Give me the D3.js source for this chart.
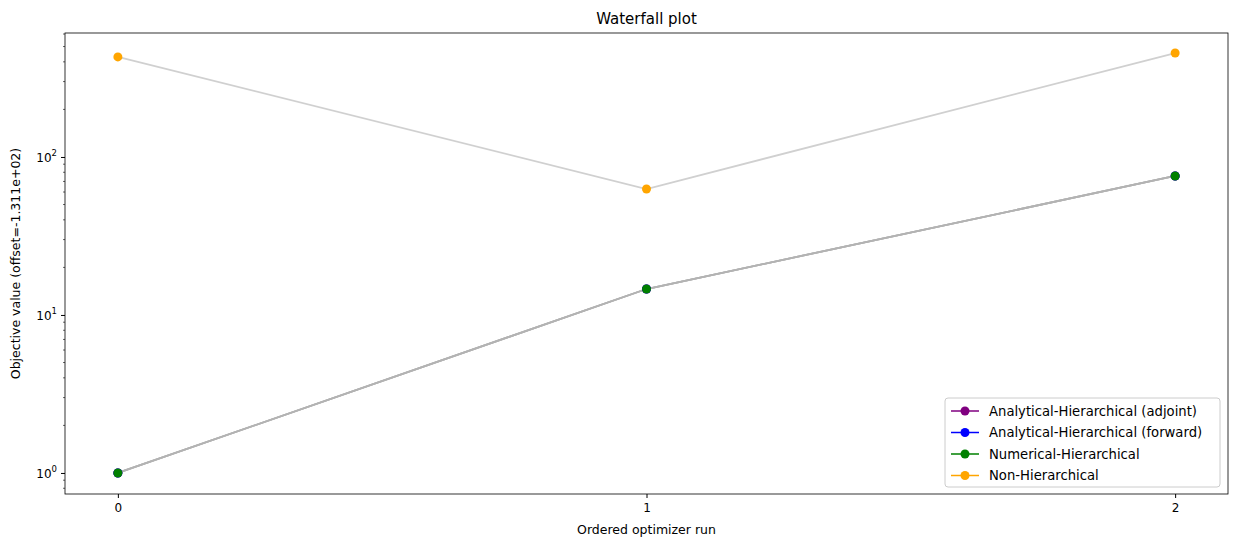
<!DOCTYPE html>
<html><head><meta charset="utf-8"><script src="https://d3js.org/d3.v7.min.js"></script>
<style>body{margin:0;background:#fff}text{font-family:"DejaVu Sans",sans-serif}</style></head>
<body><svg id="c" width="1237" height="547"></svg>
<script>
const runs=[0,1,2];
const seriesNames=["Analytical-Hierarchical (adjoint)","Analytical-Hierarchical (forward)","Numerical-Hierarchical","Non-Hierarchical"];
const seriesColors=["purple","blue","green","orange"];
const adjointVals=[1,14.6,75.8];
const forwardVals=[1,14.6,75.8];
const numericalVals=[1,14.6,75.8];
const nonHierVals=[430,62.7,455];
const yTicks=[1,10,100];
const allVals=[adjointVals,forwardVals,numericalVals,nonHierVals];

const svg=d3.select("#c");
const L=65,R=1228,T=33,B=494;
const x=d3.scaleLinear().domain([-0.1,2.1]).range([L,R]);
const y=d3.scaleLog().domain([0.736,609]).range([B,T]);
svg.append("rect").attr("x",L).attr("y",T).attr("width",R-L).attr("height",B-T).attr("fill","none").attr("stroke","#000").attr("stroke-width",0.8);
const line=d3.line().x((d,i)=>x(runs[i])).y(d=>y(d));
allVals.forEach((v,k)=>{
  svg.append("path").attr("d",line(v)).attr("fill","none").attr("stroke",k==3?"#d0d0d0":"#b3b3b3").attr("stroke-width",1.8);
});
allVals.forEach((v,k)=>{
  v.forEach((d,i)=>svg.append("circle").attr("cx",x(runs[i])).attr("cy",y(d)).attr("r",4.5).attr("fill",seriesColors[k]));
});
const xa=svg.append("g").attr("transform",`translate(0,${B})`).call(d3.axisBottom(x).tickValues(runs).tickFormat(d3.format("d")).tickSize(4));
xa.select(".domain").remove();
xa.selectAll("text").attr("font-size",12).attr("fill","#000").attr("dy","0.9em");
const ya=svg.append("g").attr("transform",`translate(${L},0)`).call(d3.axisLeft(y).tickValues(yTicks).tickFormat(()=>"").tickSize(4));
ya.select(".domain").remove();
const minor=[];for(let e=-1;e<3;e++)for(let m=2;m<10;m++){const v=m*Math.pow(10,e);if(v>0.736&&v<609)minor.push(v);}
svg.append("g").selectAll("line").data(minor).join("line").attr("x1",L-2).attr("x2",L).attr("y1",d=>y(d)).attr("y2",d=>y(d)).attr("stroke","#000").attr("stroke-width",0.6);
yTicks.forEach((t,i)=>{
  const g=svg.append("text").attr("x",L-8).attr("y",y(t)+5).attr("text-anchor","end").attr("font-size",12);
  g.append("tspan").text("10");
  g.append("tspan").attr("dy",-6).attr("font-size",8.5).text(i);
});
svg.append("text").attr("x",(L+R)/2).attr("y",24).attr("text-anchor","middle").attr("font-size",15).text("Waterfall plot");
svg.append("text").attr("x",(L+R)/2).attr("y",534).attr("text-anchor","middle").attr("font-size",12.5).text("Ordered optimizer run");
svg.append("text").attr("transform",`translate(20,${(T+B)/2}) rotate(-90)`).attr("text-anchor","middle").attr("font-size",12.5).text("Objective value (offset=-1.311e+02)");
const lg=svg.append("g").attr("transform","translate(945,398)");
lg.append("rect").attr("width",275).attr("height",89).attr("rx",3).attr("fill","#fff").attr("fill-opacity",0.8).attr("stroke","#ccc");
seriesNames.forEach((n,i)=>{
  const yy=13+i*21.5;
  lg.append("line").attr("x1",6).attr("x2",34).attr("y1",yy).attr("y2",yy).attr("stroke",seriesColors[i]).attr("stroke-width",1.5);
  lg.append("circle").attr("cx",20).attr("cy",yy).attr("r",4.5).attr("fill",seriesColors[i]);
  lg.append("text").attr("x",44).attr("y",yy+4.5).attr("font-size",13.2).text(n);
});
</script></body></html>
